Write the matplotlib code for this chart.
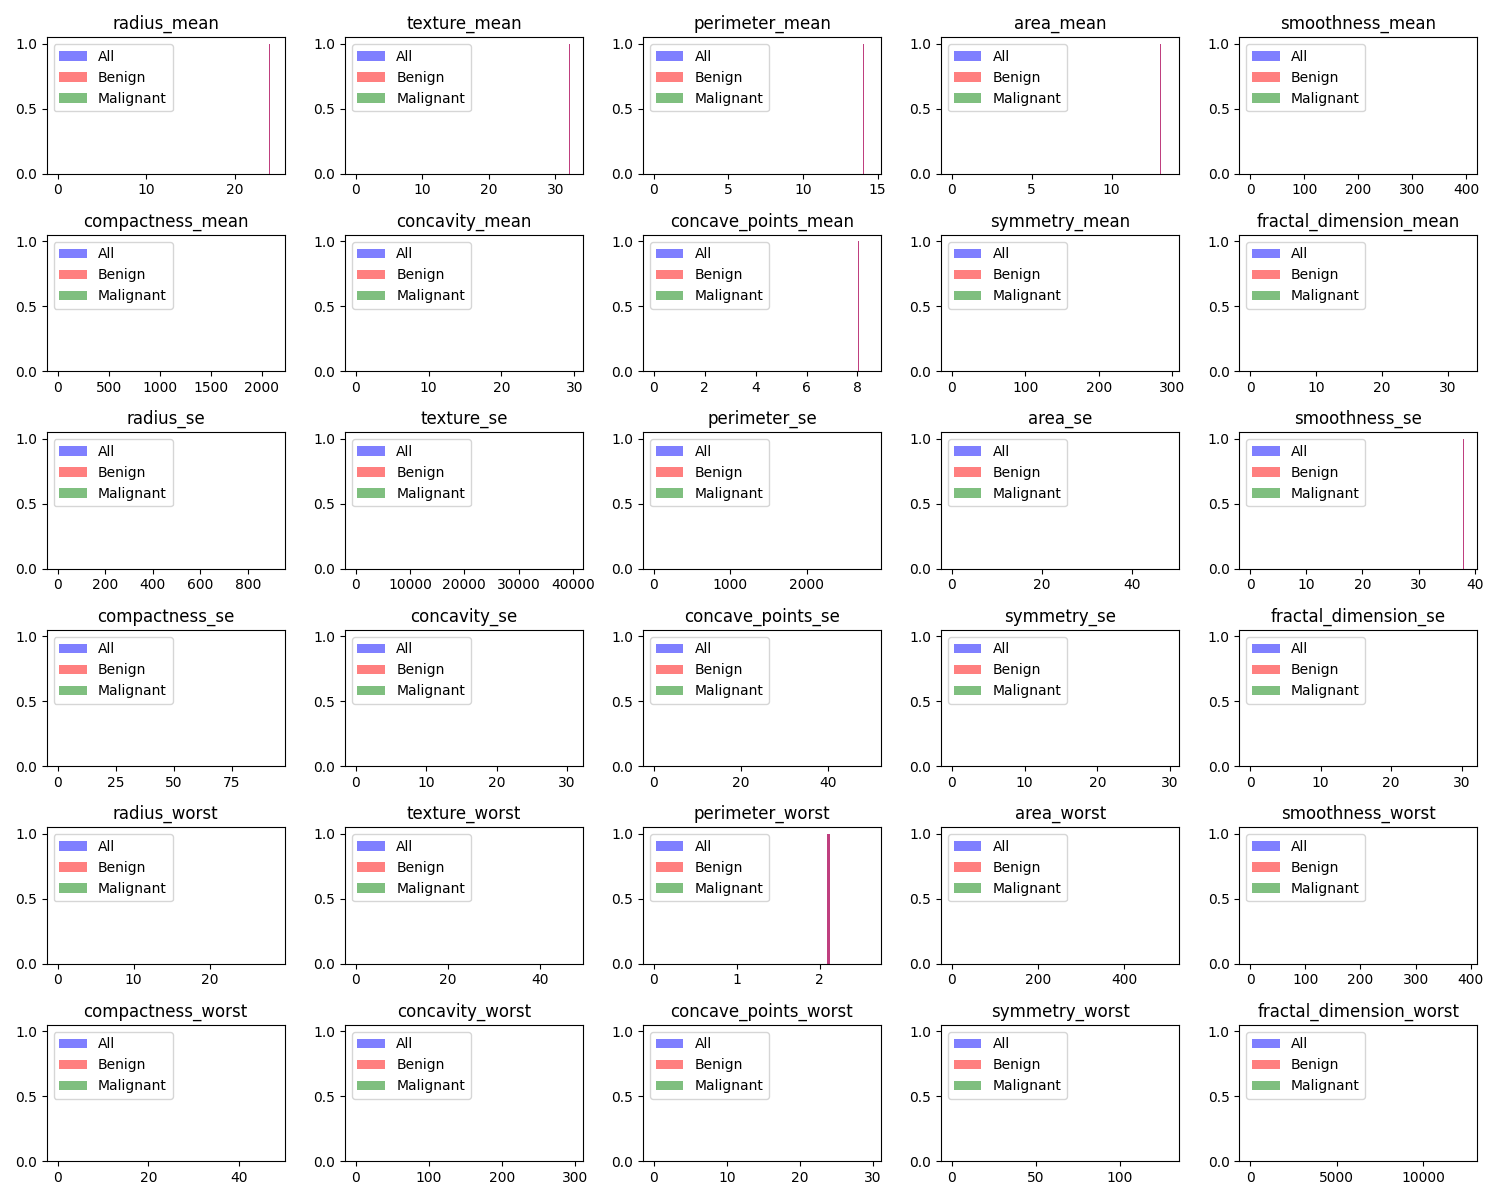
import numpy as np
import matplotlib
matplotlib.use("Agg")
import matplotlib.pyplot as plt
from matplotlib.patches import Patch

# feature names, 6 rows x 5 columns
features = [
    "radius_mean", "texture_mean", "perimeter_mean", "area_mean", "smoothness_mean",
    "compactness_mean", "concavity_mean", "concave_points_mean", "symmetry_mean", "fractal_dimension_mean",
    "radius_se", "texture_se", "perimeter_se", "area_se", "smoothness_se",
    "compactness_se", "concavity_se", "concave_points_se", "symmetry_se", "fractal_dimension_se",
    "radius_worst", "texture_worst", "perimeter_worst", "area_worst", "smoothness_worst",
    "compactness_worst", "concavity_worst", "concave_points_worst", "symmetry_worst", "fractal_dimension_worst",
]

# upper end of the value range of each panel
range_max = [
    24.4, 32.5, 14.5, 13.55, 400,
    2117, 29.7, 8.5, 295, 32.8,
    909, 39850, 2830, 48, 38.5,
    93.2, 30.7, 49.7, 29.75, 30.7,
    28.4, 46.9, 2.61, 502, 392,
    47.6, 295.7, 29.6, 129, 12490,
]

# visible single bins: feature -> (left edge, bin width), count is 1
peak_bins = {
    "radius_mean": (23.85, 0.16),
    "texture_mean": (32.0, 0.22),
    "perimeter_mean": (14.0, 0.1),
    "area_mean": (13.03, 0.09),
    "concave_points_mean": (8.02, 0.055),
    "smoothness_se": (37.88, 0.26),
    "perimeter_worst": (2.095, 0.03),
}
peak_counts = [1]

groups = ["All", "Benign", "Malignant"]
colors = ["blue", "red", "green"]

fig, axes = plt.subplots(6, 5, figsize=(15, 12))

for i, name in enumerate(features):
    ax = axes.flat[i]
    if name in peak_bins:
        left, width = peak_bins[name]
        # All and Benign overlap on the same bin
        for g, c in zip(groups[:2], colors[:2]):
            ax.hist([left + width / 2] * peak_counts[0], bins=[left, left + width],
                    color=c, alpha=0.5, antialiased=False)
    hi = range_max[i]
    ax.set_xlim(-0.05 * hi, 1.05 * hi)
    ax.set_ylim(0, 1.05)
    ax.set_title(name)
    handles = [Patch(facecolor=c, alpha=0.5, label=g) for g, c in zip(groups, colors)]
    ax.legend(handles=handles, loc="upper left")

plt.tight_layout()
plt.savefig("out.png", dpi=100)
